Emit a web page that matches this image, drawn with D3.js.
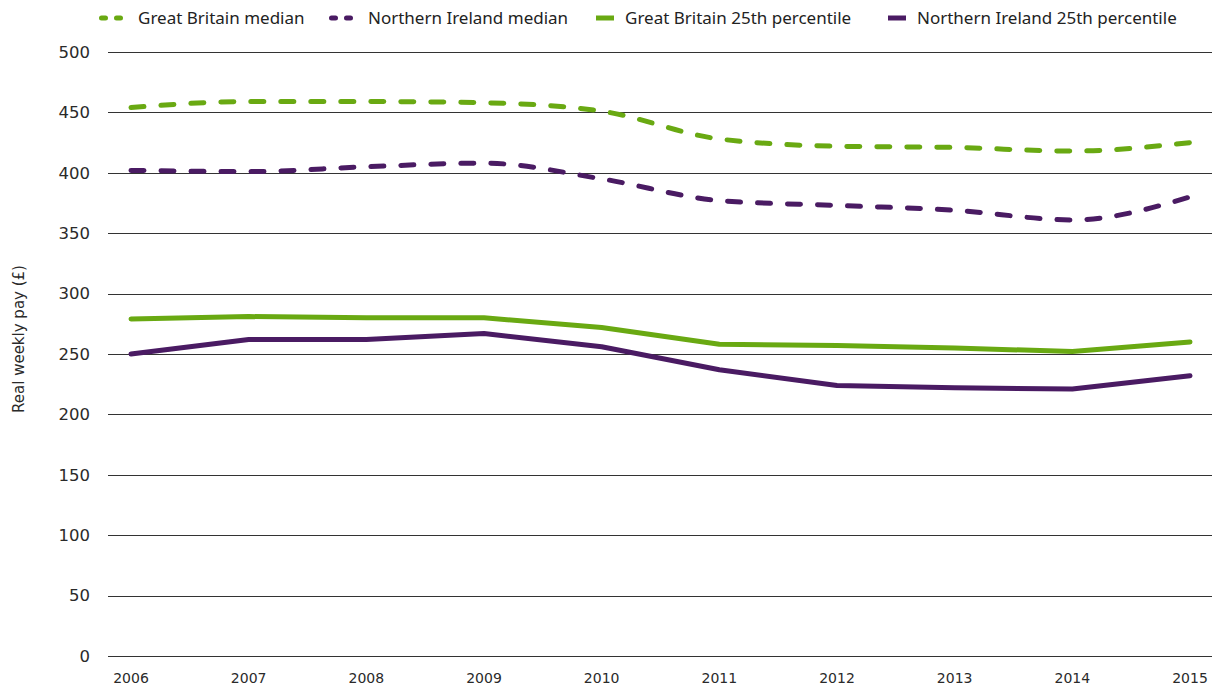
<!DOCTYPE html>
<html>
<head>
<meta charset="utf-8">
<script src="https://cdn.jsdelivr.net/npm/d3@7"></script>
<style>
  body { margin: 0; background: #fff; }
  svg { display: block; }
  .tick-y { font-family: "DejaVu Sans", sans-serif; font-weight: normal; font-size: 16.5px; fill: #2a2a2a; }
  .tick-x { font-family: "DejaVu Sans", sans-serif; font-weight: normal; font-size: 14px; fill: #2a2a2a; }
  .axis-title { font-family: "DejaVu Sans", sans-serif; font-size: 15px; fill: #2a2a2a; }
  .legend text { font-family: "Noto Sans", sans-serif; font-size: 17px; fill: #222; }
</style>
</head>
<body>
<svg id="chart" width="1216" height="690"></svg>
<script>
const years = ['2006', '2007', '2008', '2009', '2010', '2011', '2012', '2013', '2014', '2015'];
const gbMedian = [454, 459, 459, 458, 451, 428, 422, 421, 418, 425];
const niMedian = [402, 401, 405, 408, 395, 377, 373, 369, 361, 380];
const gb25 = [279, 281, 280, 280, 272, 258, 257, 255, 252, 260];
const ni25 = [250, 262, 262, 267, 256, 237, 224, 222, 221, 232];
const yTicks = [0, 50, 100, 150, 200, 250, 300, 350, 400, 450, 500];

const green = '#69a912',
    purple = '#4a1b63';

const series = [
    {name: 'Great Britain median', values: gbMedian, color: green, dashed: true},
    {name: 'Northern Ireland median', values: niMedian, color: purple, dashed: true},
    {name: 'Great Britain 25th percentile', values: gb25, color: green, dashed: false},
    {name: 'Northern Ireland 25th percentile', values: ni25, color: purple, dashed: false}
];

const svg = d3.select('#chart');

const gridLeft = 108, gridRight = 1212;

const x = d3.scalePoint()
    .domain(years)
    .range([131, 1190]);

const y = d3.scaleLinear()
    .domain([0, 500])
    .range([656, 52]);

// gridlines
svg.append('g')
    .selectAll('line')
    .data(yTicks)
    .enter().append('line')
    .attr('x1', gridLeft)
    .attr('x2', gridRight)
    .attr('y1', d => Math.round(y(d)) + 0.5)
    .attr('y2', d => Math.round(y(d)) + 0.5)
    .attr('stroke', '#333')
    .attr('stroke-width', 1);

// y tick labels
svg.append('g')
    .selectAll('text')
    .data(yTicks)
    .enter().append('text')
    .attr('class', 'tick-y')
    .attr('x', 90)
    .attr('y', d => y(d))
    .attr('dy', '0.35em')
    .attr('text-anchor', 'end')
    .text(d => d);

// x tick labels
svg.append('g')
    .selectAll('text')
    .data(years)
    .enter().append('text')
    .attr('class', 'tick-x')
    .attr('x', d => x(d))
    .attr('y', 683)
    .attr('text-anchor', 'middle')
    .text(d => d);

// y axis title
svg.append('text')
    .attr('class', 'axis-title')
    .attr('transform', 'translate(24,' + 339 + ') rotate(-90)')
    .attr('text-anchor', 'middle')
    .text('Real weekly pay (£)');

// lines: medians smoothed and dashed, percentiles straight
const lineSmooth = d3.line()
    .x((d, i) => x(years[i]))
    .y(d => y(d))
    .curve(d3.curveMonotoneX);

const lineStraight = d3.line()
    .x((d, i) => x(years[i]))
    .y(d => y(d));

svg.append('g')
    .selectAll('path')
    .data(series)
    .enter().append('path')
    .attr('d', d => d.dashed ? lineSmooth(d.values) : lineStraight(d.values))
    .attr('fill', 'none')
    .attr('stroke', d => d.color)
    .attr('stroke-width', 5)
    .attr('stroke-linecap', 'round')
    .attr('stroke-linejoin', 'round')
    .attr('stroke-dasharray', d => d.dashed ? '13,17' : null);

// legend
const legendX = [98, 328, 596, 888];
const legend = svg.append('g').attr('class', 'legend');

const item = legend.selectAll('g')
    .data(series)
    .enter().append('g')
    .attr('transform', (d, i) => 'translate(' + legendX[i] + ',18)');

item.filter(d => d.dashed)
    .append('line')
    .attr('x1', 3.5).attr('x2', 23)
    .attr('stroke', d => d.color)
    .attr('stroke-width', 5)
    .attr('stroke-linecap', 'round')
    .attr('stroke-dasharray', '4,11');

item.filter(d => !d.dashed)
    .append('line')
    .attr('x1', 0).attr('x2', 18)
    .attr('stroke', d => d.color)
    .attr('stroke-width', 5);

item.append('text')
    .attr('x', (d, i) => d.dashed ? 40 : 29)
    .attr('dy', '0.35em')
    .text(d => d.name);
</script>
</body>
</html>
